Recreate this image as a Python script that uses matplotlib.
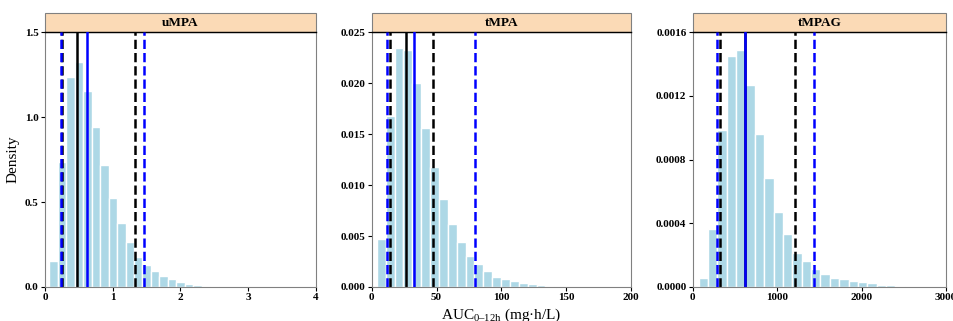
import matplotlib
matplotlib.use("Agg")
import matplotlib.pyplot as plt
from matplotlib.patches import Rectangle
import numpy as np

plt.rcParams['font.family'] = ['Liberation Serif', 'DejaVu Serif']
plt.rcParams['mathtext.fontset'] = 'custom'
plt.rcParams['mathtext.rm'] = 'Liberation Serif'
plt.rcParams['mathtext.it'] = 'Liberation Serif:italic'
plt.rcParams['mathtext.bf'] = 'Liberation Serif:bold'

# ---------------- data ----------------
titles = ["uMPA", "tMPA", "tMPAG"]

umpa_start, umpa_width = 0.064, 0.125
umpa_density = [0.153, 0.737, 1.234, 1.325, 1.156, 0.942, 0.719, 0.525, 0.377, 0.267,
                0.178, 0.128, 0.095, 0.067, 0.045, 0.031, 0.019, 0.012, 0.007, 0.004, 0.002]

tmpa_start, tmpa_width = 3.9, 6.85
tmpa_density = [0.00471, 0.01678, 0.02343, 0.02326, 0.02005, 0.01564, 0.01181, 0.00867,
                0.00621, 0.00445, 0.00304, 0.00223, 0.0016, 0.00101, 0.00079, 0.00056,
                0.00042, 0.00026, 0.00019, 0.00012, 0.00007]

tmpag_start, tmpag_width = 70.0, 111.0
tmpag_density = [0.0000545, 0.000364, 0.000986, 0.001453, 0.001491, 0.001269, 0.000961,
                 0.000687, 0.000473, 0.000331, 0.000216, 0.000161, 0.000113, 0.0000796,
                 0.0000586, 0.0000482, 0.0000377, 0.0000293, 0.000022, 0.000015,
                 0.00001, 0.000006, 0.000003]

# reference lines
umpa_lines = {"black_dash": [0.245, 1.333], "blue_dash": [0.236, 1.466],
              "black_solid": 0.477, "blue_solid": 0.615}
tmpa_lines = {"black_dash": [13.9, 47.0], "blue_dash": [11.8, 80.0],
              "black_solid": 26.7, "blue_solid": 32.9}
tmpag_lines = {"black_dash": [320, 1208], "blue_dash": [284, 1441],
               "black_solid": 620, "blue_solid": 620}

xlims = [(0, 4), (0, 200), (0, 3000)]
ylims = [(0, 1.5), (0, 0.025), (0, 0.0016)]
xticks = [[0, 1, 2, 3, 4], [0, 50, 100, 150, 200], [0, 1000, 2000, 3000]]
yticks = [[0, 0.5, 1.0, 1.5], [0, 0.005, 0.010, 0.015, 0.020, 0.025],
          [0, 0.0004, 0.0008, 0.0012, 0.0016]]
yfmt = ["{:.1f}", "{:.3f}", "{:.4f}"]

panels = [(umpa_start, umpa_width, umpa_density, umpa_lines),
          (tmpa_start, tmpa_width, tmpa_density, tmpa_lines),
          (tmpag_start, tmpag_width, tmpag_density, tmpag_lines)]

# ---------------- figure ----------------
W, H = 954, 321
fig = plt.figure(figsize=(W / 100, H / 100), dpi=100)

ax_px = [(45, 316), (371.7, 631), (692.7, 946)]
top_px, bot_px, strip_top_px = 32.3, 287, 13

axes = []
for i, (x0, x1) in enumerate(ax_px):
    ax = fig.add_axes([x0 / W, 1 - bot_px / H, (x1 - x0) / W, (bot_px - top_px) / H])
    axes.append(ax)
    start, width, dens, lines = panels[i]
    lefts = start + width * np.arange(len(dens))
    ax.bar(lefts, dens, width=width, align='edge', color='#add8e6',
           edgecolor='white', linewidth=1.0, zorder=1)
    lw_d = 1.8
    for v in lines["black_dash"]:
        ax.axvline(v, color='black', linestyle='--', linewidth=lw_d, zorder=2)
    for v in lines["blue_dash"]:
        ax.axvline(v, color='blue', linestyle='--', linewidth=lw_d, zorder=3)
    ax.axvline(lines["black_solid"], color='black', linewidth=1.8, zorder=2)
    ax.axvline(lines["blue_solid"], color='blue', linewidth=1.8, zorder=3)

    ax.set_xlim(*xlims[i])
    ax.set_ylim(*ylims[i])
    ax.set_xticks(xticks[i])
    ax.set_xticklabels([str(t) for t in xticks[i]], fontsize=8, fontweight='bold')
    ax.set_yticks(yticks[i])
    ax.set_yticklabels([yfmt[i].format(t) for t in yticks[i]], fontsize=8, fontweight='bold')
    ax.tick_params(direction='out', length=3, width=0.8, pad=1.5, colors='black')
    for s in ['left', 'right', 'bottom']:
        ax.spines[s].set_color('#808080')
        ax.spines[s].set_linewidth(0.8)
    ax.spines['top'].set_color('black')
    ax.spines['top'].set_linewidth(1.0)

    # facet strip
    strip_h = (top_px - strip_top_px) / (bot_px - top_px)
    rect = Rectangle((0, 1), 1, strip_h, transform=ax.transAxes, facecolor='#fbdab6',
                     edgecolor='#808080', linewidth=0.8, clip_on=False, zorder=0)
    ax.add_patch(rect)
    ax.text(0.5, 1 + strip_h / 2, titles[i], transform=ax.transAxes, ha='center',
            va='center', fontsize=9.5, fontweight='bold')

axes[0].set_ylabel("Density", fontsize=11, labelpad=4)
axes[1].set_xlabel("AUC$_{\\mathrm{0\u201212h}}$ (mg\u00b7h/L)", fontsize=11, labelpad=3)

fig.savefig("out.png", dpi=100)
